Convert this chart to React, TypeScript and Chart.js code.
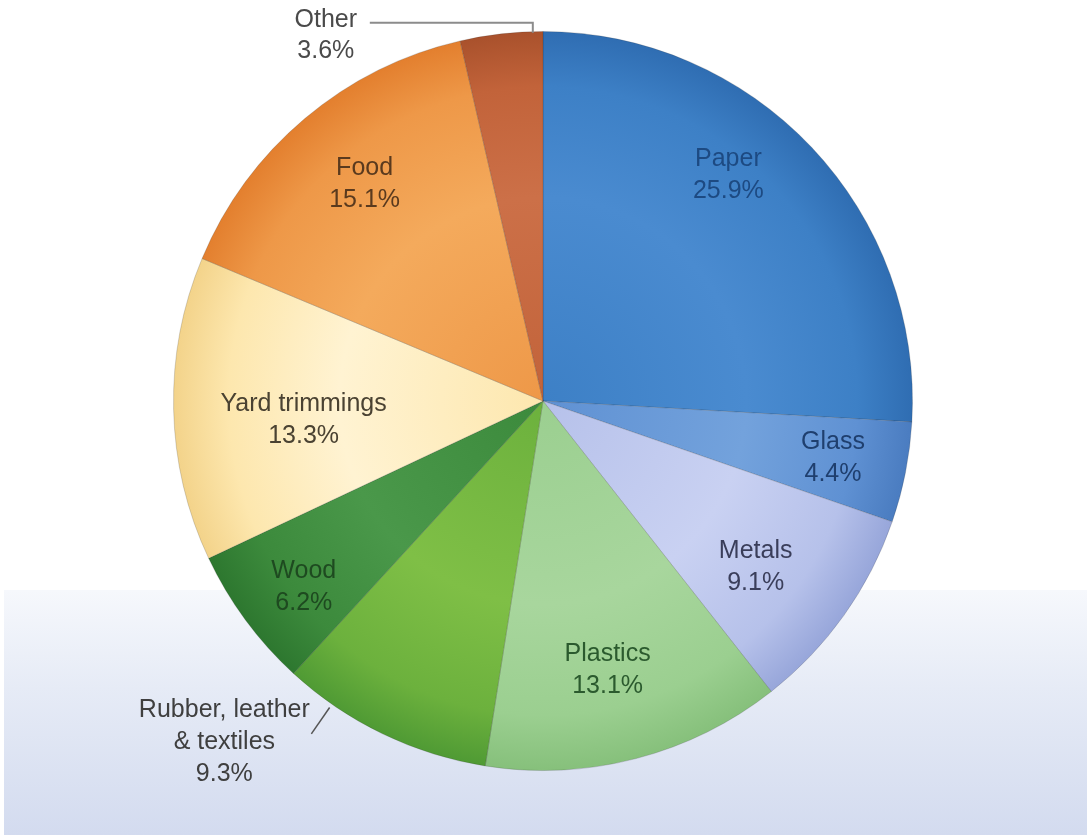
import React, { useEffect, useRef } from "react";
import { Chart, registerables } from "chart.js";

Chart.register(...registerables);

// ---- data ----
const categories = [
  "Paper",
  "Glass",
  "Metals",
  "Plastics",
  "Rubber, leather & textiles",
  "Wood",
  "Yard trimmings",
  "Food",
  "Other",
];
const labelLines = [
  ["Paper"],
  ["Glass"],
  ["Metals"],
  ["Plastics"],
  ["Rubber, leather", "& textiles"],
  ["Wood"],
  ["Yard trimmings"],
  ["Food"],
  ["Other"],
];
const shares = [25.9, 4.4, 9.1, 13.1, 9.3, 6.2, 13.3, 15.1, 3.6];

// ---- styles ----
const baseColors = ["#3d80c6", "#5f91d3", "#b6c1ea", "#9bcf90", "#6cb13d", "#3c8a3c", "#fde7ae", "#ee9848", "#c2633a"];
const lightColors = ["#4a8bd0", "#73a2dc", "#c9d1f2", "#a8d69d", "#7fbf46", "#4a984a", "#fff3d2", "#f4aa5c", "#cc7048"];
const darkColors = ["#2f6db2", "#4a7cc0", "#97a6da", "#86c07b", "#4f9a34", "#2d772f", "#f3d38a", "#e37f2e", "#a9512c"];
const textColors = ["#1d4a82", "#1f3f6e", "#3a3e5a", "#2b5a2e", "#3f3f3f", "#1e4a20", "#4a4232", "#5a3a1e", "#4a4a4a"];

// label layout: inside labels (radius fraction, angular shift in degrees) or outside with leader
const labelLayout: any[] = [
  { kind: "inside", r: 0.79, shift: -7.2 },
  { kind: "inside", r: 0.8, shift: 0 },
  { kind: "inside", r: 0.73, shift: 2.5 },
  { kind: "inside", r: 0.75, shift: 1.1 },
  { kind: "radial", shift: 9.1, from: 4, to: 36, tdx: -87, tdy: -24 },
  { kind: "inside", r: 0.82, shift: -1.5 },
  { kind: "inside", r: 0.65, shift: -3.4 },
  { kind: "inside", r: 0.76, shift: 0.7 },
  { kind: "elbow", shift: 4.9, up: 9, left: 163, tdx: -44, tdy: -3 },
];

const FONT = '25px "Liberation Sans", Arial, sans-serif';
const LINE_H = 32;

const labelPlugin = {
  id: "sliceLabels",
  afterDatasetsDraw(chart: any) {
    const ctx = chart.ctx;
    const meta = chart.getDatasetMeta(0);
    ctx.save();
    ctx.font = FONT;
    ctx.textAlign = "center";
    ctx.textBaseline = "middle";
    meta.data.forEach((arc: any, i: number) => {
      const { x, y, startAngle, endAngle, outerRadius } = arc.getProps(
        ["x", "y", "startAngle", "endAngle", "outerRadius"],
        true
      );
      const lay = labelLayout[i];
      const mid = (startAngle + endAngle) / 2 + (lay.shift * Math.PI) / 180;
      const lines = [...labelLines[i], `${shares[i].toFixed(1)}%`];
      ctx.fillStyle = textColors[i];
      if (lay.kind === "inside") {
        const px = x + Math.cos(mid) * outerRadius * lay.r;
        const py = y + Math.sin(mid) * outerRadius * lay.r;
        const h = (lines.length - 1) * LINE_H;
        lines.forEach((t, k) => ctx.fillText(t, px, py - h / 2 + k * LINE_H));
      } else if (lay.kind === "radial") {
        const x1 = x + Math.cos(mid) * (outerRadius + lay.from);
        const y1 = y + Math.sin(mid) * (outerRadius + lay.from);
        const x2 = x + Math.cos(mid) * (outerRadius + lay.to);
        const y2 = y + Math.sin(mid) * (outerRadius + lay.to);
        ctx.strokeStyle = "#555";
        ctx.lineWidth = 1.5;
        ctx.beginPath();
        ctx.moveTo(x1, y1);
        ctx.lineTo(x2, y2);
        ctx.stroke();
        const tx = x2 + lay.tdx;
        const ty = y2 + lay.tdy;
        lines.forEach((t, k) => ctx.fillText(t, tx, ty + k * LINE_H));
      } else {
        const x1 = x + Math.cos(mid) * outerRadius;
        const y1 = y + Math.sin(mid) * outerRadius;
        const y2 = y1 - lay.up;
        const x3 = x1 - lay.left;
        ctx.strokeStyle = "#8c8c8c";
        ctx.lineWidth = 2;
        ctx.beginPath();
        ctx.moveTo(x1, y1 + 1);
        ctx.lineTo(x1, y2);
        ctx.lineTo(x3, y2);
        ctx.stroke();
        const tx = x3 + lay.tdx;
        const ty = y2 + lay.tdy;
        lines.forEach((t, k) => ctx.fillText(t, tx, ty + k * (LINE_H - 1)));
      }
    });
    ctx.restore();
  },
};

export default function App() {
  const canvasRef = useRef<HTMLCanvasElement | null>(null);

  useEffect(() => {
    if (!canvasRef.current) return;
    const chart = new Chart(canvasRef.current, {
      type: "pie",
      data: {
        labels: categories,
        datasets: [
          {
            data: shares,
            backgroundColor: (c: any) => {
              const ch = c.chart;
              const area = ch.chartArea;
              const i = c.dataIndex;
              if (!area || i === undefined) return baseColors[i ?? 0];
              const cx = (area.left + area.right) / 2;
              const cy = (area.top + area.bottom) / 2;
              const r = Math.min(area.width, area.height) / 2;
              const g = ch.ctx.createRadialGradient(cx, cy, 0, cx, cy, r);
              g.addColorStop(0, baseColors[i]);
              g.addColorStop(0.55, lightColors[i]);
              g.addColorStop(0.85, baseColors[i]);
              g.addColorStop(1, darkColors[i]);
              return g;
            },
            borderColor: "rgba(40,40,40,0.18)",
            borderWidth: 1,
          },
        ],
      },
      options: {
        responsive: false,
        maintainAspectRatio: false,
        animation: false,
        layout: { padding: { left: 173, right: 174, top: 31, bottom: 64 } },
        plugins: {
          legend: { display: false },
          tooltip: { enabled: false },
        },
      },
      plugins: [labelPlugin],
    });
    return () => chart.destroy();
  }, []);

  return (
    <div
      style={{
        position: "absolute",
        left: 0,
        top: 0,
        width: 1087,
        height: 835,
        background: "#ffffff",
        overflow: "hidden",
      }}
    >
      <div
        style={{
          position: "absolute",
          left: 4,
          top: 590,
          width: 1083,
          height: 245,
          background: "linear-gradient(to bottom, #f6f8fc 0%, #e6ebf6 40%, #d3dbef 100%)",
        }}
      />
      <canvas
        ref={canvasRef}
        width={1087}
        height={835}
        style={{ position: "absolute", left: 0, top: 0, width: 1087, height: 835 }}
      />
    </div>
  );
}
